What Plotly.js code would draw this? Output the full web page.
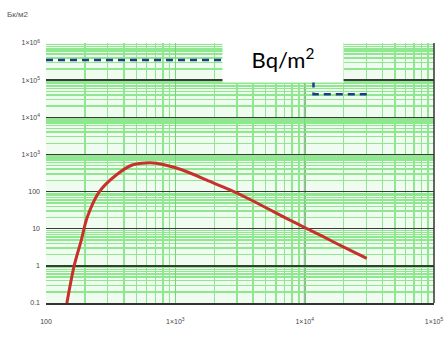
<!DOCTYPE html>
<html><head><meta charset="utf-8">
<script src="https://cdn.plot.ly/plotly-3.0.1.min.js"></script>
<style>html,body{margin:0;padding:0;background:#fff}#c{width:446px;height:343px}</style>
</head><body><div id="c"></div>
<script>
// Red curve (density vs distance)
const curveX = [145, 165, 187, 208, 258, 349, 464, 596, 712, 1133, 1835, 2623, 3750, 7657, 10000, 13800, 19700, 30200];
const curveY = [0.1, 1, 4.8, 20, 98, 279, 520, 589, 577, 381, 190, 112, 62, 17.2, 10.8, 6.2, 3.3, 1.6];
// Blue dashed threshold line
const limitX = [100, 11700, 11700, 30200];
const limitY = [350000, 350000, 42000, 42000];
// Tick labels
const xTickVals = [100, 1000, 10000, 100000];
const xTickText = ['100', '1×10<sup>3</sup>', '1×10<sup>4</sup>', '1×10<sup>5</sup>'];
const yTickVals = [0.1, 1, 10, 100, 1000, 10000, 100000, 1000000];
const yTickText = ['0.1', '1', '10', '100', '1×10<sup>3</sup>', '1×10<sup>4</sup>', '1×10<sup>5</sup>', '1×10<sup>6</sup>'];
const unitLabel = 'Бк/м2';
const overlayLabel = 'Bq/m<sup>2</sup>';

const traces = [
  {x: curveX, y: curveY, type: 'scatter', mode: 'lines', line: {color: '#c8302c', width: 3, shape: 'spline', smoothing: 0.8}, hoverinfo: 'skip'},
  {x: limitX, y: limitY, type: 'scatter', mode: 'lines', line: {color: '#1f3a88', width: 2.5, dash: '7px,5px'}, hoverinfo: 'skip'}
];
const tickFont = {family: 'Liberation Sans, Arial, sans-serif', size: 7, color: '#444'};
const layout = {
  width: 446, height: 343,
  margin: {l: 46, r: 12, t: 43, b: 40},
  paper_bgcolor: '#fff', plot_bgcolor: '#f0fcf0',
  showlegend: false,
  xaxis: {
    type: 'log', range: [2, 5], tickvals: xTickVals, ticktext: xTickText,
    tickfont: tickFont, ticks: '', ticklabelstandoff: 11,
    showgrid: true, gridcolor: '#74d874', gridwidth: 1.5,
    minor: {dtick: 'D1', showgrid: true, gridcolor: '#8fe88f', gridwidth: 1.5},
    showline: true, linecolor: '#333', linewidth: 1.5, zeroline: false
  },
  yaxis: {
    type: 'log', range: [-1, 6], tickvals: yTickVals, ticktext: yTickText,
    tickfont: tickFont, ticks: '', ticklabelstandoff: 5,
    showgrid: true, gridcolor: '#3a3a3a', gridwidth: 1.5,
    minor: {dtick: 'D1', showgrid: true, gridcolor: '#8fe88f', gridwidth: 1.5},
    showline: false, zeroline: false
  },
  shapes: [
    {type: 'line', xref: 'x', yref: 'paper', x0: 10000, x1: 10000, y0: 0, y1: 1, line: {color: '#333', width: 1.5}, layer: 'below'},
    {type: 'line', xref: 'paper', yref: 'paper', x0: 1, x1: 1, y0: 0, y1: 1, line: {color: '#333', width: 1.5}}
  ],
  annotations: [
    {text: unitLabel, xref: 'paper', yref: 'paper', x: -0.105, y: 1.11, xanchor: 'left', yanchor: 'middle', showarrow: false, font: {family: 'Liberation Sans, Arial, sans-serif', size: 8, color: '#555'}},
    {text: overlayLabel, xref: 'paper', yref: 'paper', x: 0.611, y: 0.94, xanchor: 'center', yanchor: 'middle', showarrow: false, bgcolor: '#fff', width: 120, height: 47, borderpad: 0, font: {family: 'Lato, Carlito, sans-serif', size: 22, color: '#000'}}
  ]
};
Plotly.newPlot('c', traces, layout, {staticPlot: true, displayModeBar: false});
</script></body></html>
